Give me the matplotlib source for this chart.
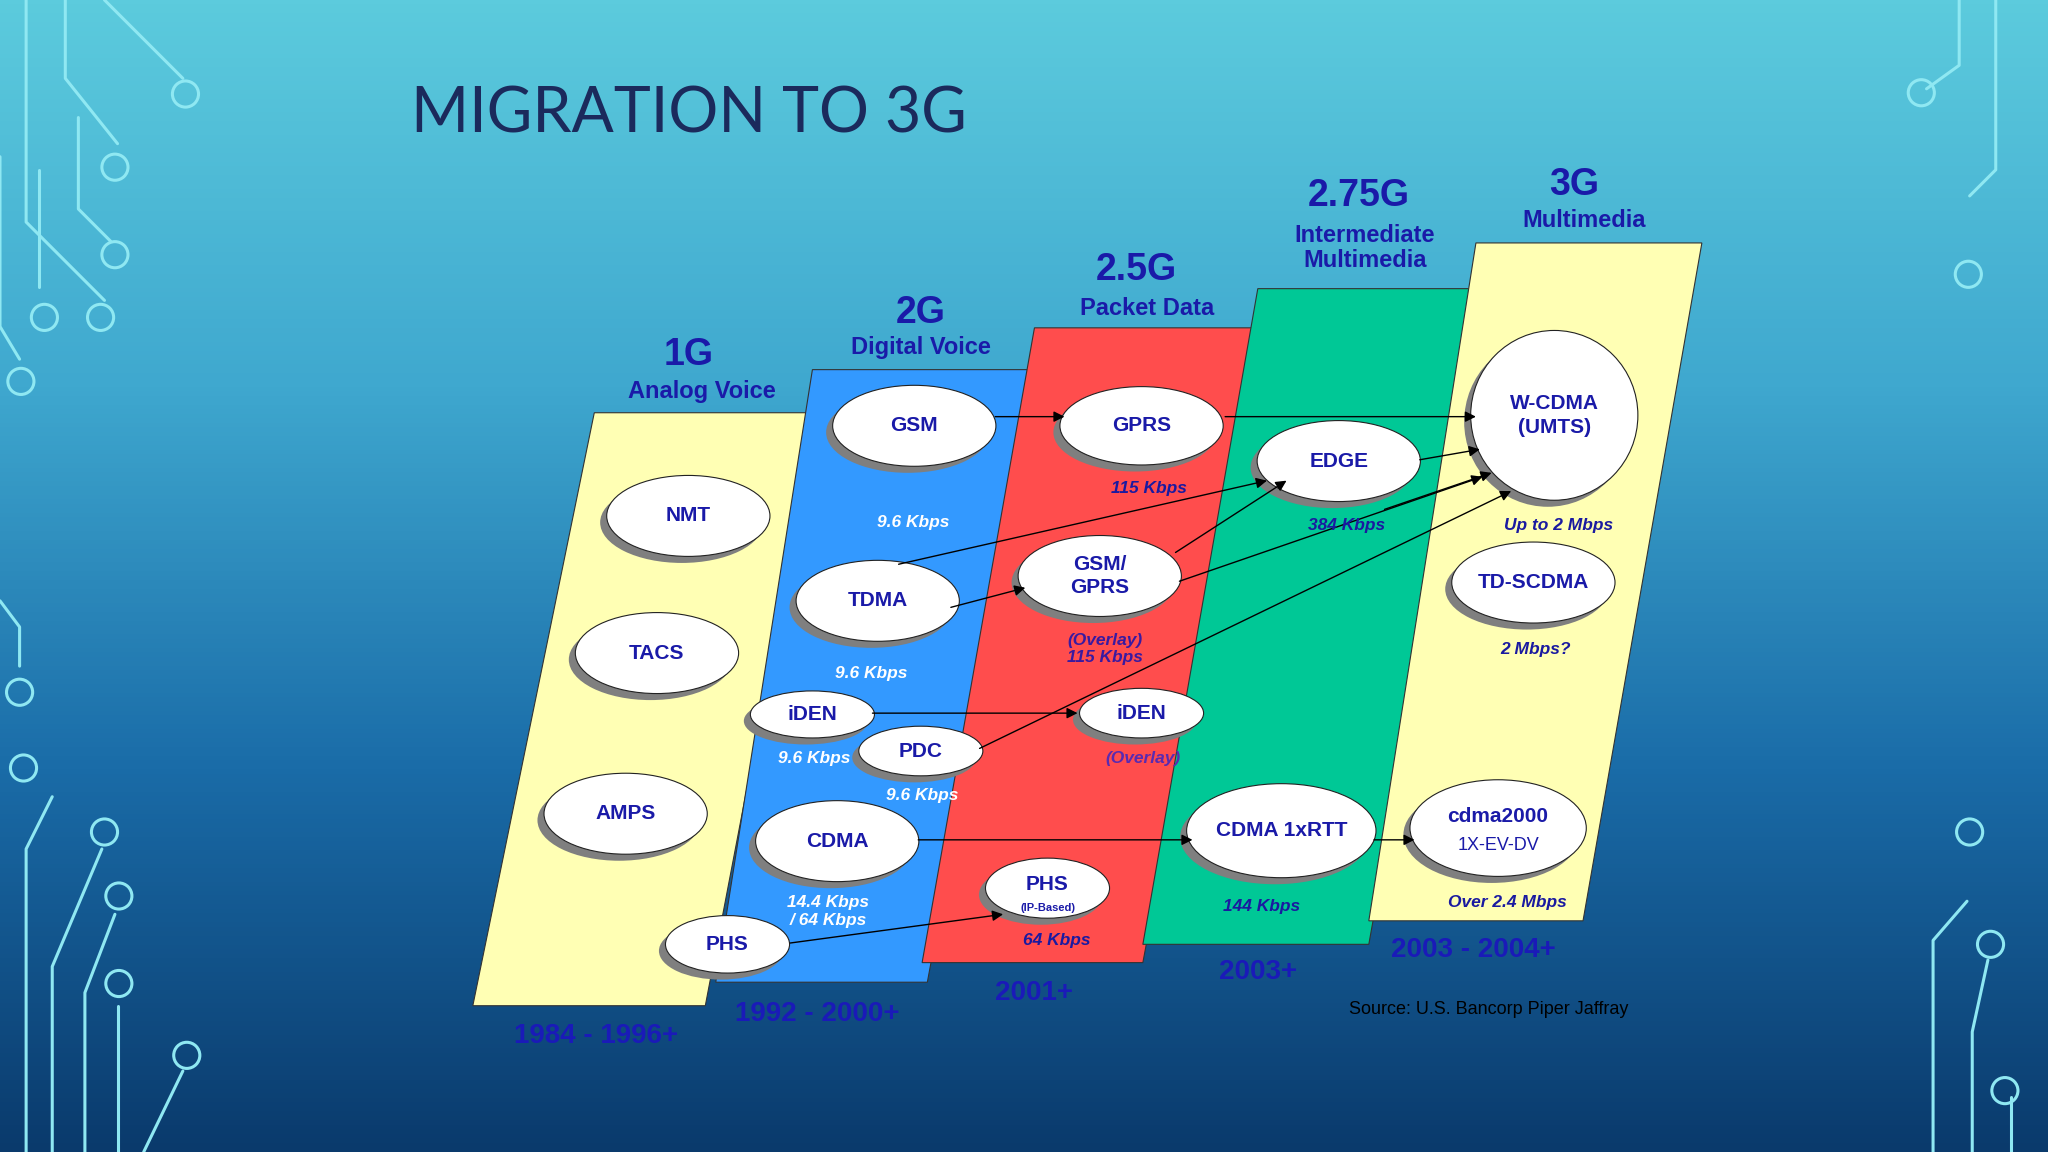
import numpy as np
import matplotlib.pyplot as plt
from matplotlib.patches import Polygon, Ellipse
from matplotlib.colors import LinearSegmentedColormap

# generations: name, subtitle, years, colour, panel (top y, top left x, top right x, bottom y, bottom left x, bottom right x)
gen_names = ["1G", "2G", "2.5G", "2.75G", "3G"]
gen_subtitles = ["Analog Voice", "Digital Voice", "Packet Data", "Intermediate\nMultimedia", "Multimedia"]
gen_years = ["1984 - 1996+", "1992 - 2000+", "2001+", "2003+", "2003 - 2004+"]
gen_colors = ["#FFFFB4", "#3399FF", "#FF4D4D", "#00C896", "#FFFFB4"]
panels = [
    (316, 455, 627, 770, 362, 540),
    (283, 622, 797, 752, 548, 710),
    (251, 792, 966, 737, 706, 875),
    (221, 963, 1138, 723, 875, 1048),
    (186, 1130, 1303, 705, 1048, 1212),
]
gen_name_pos = [(527, 272), (705, 240), (870, 207), (1040, 150), (1205, 142)]
gen_sub_pos = [(537, 300), (705, 266), (878, 236), (1045, 190), (1213, 169)]
gen_year_pos = [(456, 793), (626, 776), (792, 760), (963, 744), (1128, 727)]

# technologies: label, centre x, centre y, width, height
node_labels = ["NMT", "TACS", "AMPS", "GSM", "TDMA", "iDEN", "PDC", "CDMA", "PHS",
               "GPRS", "GSM/\nGPRS", "iDEN", "PHS", "EDGE", "CDMA 1xRTT",
               "W-CDMA\n(UMTS)", "TD-SCDMA", "cdma2000"]
node_x = [527, 503, 479, 700, 672, 622, 705, 641, 557, 874, 842, 874, 802, 1025, 981, 1190, 1174, 1147]
node_y = [395, 500, 623, 326, 460, 547, 575, 644, 723, 326, 441, 546, 680, 353, 636, 318, 446, 634]
node_w = [125, 125, 125, 125, 125, 95, 95, 125, 95, 125, 125, 95, 95, 125, 145, 128, 125, 135]
node_h = [62, 62, 62, 62, 62, 36, 38, 62, 44, 60, 62, 38, 46, 62, 72, 130, 62, 74]

# speed labels: text, x, y, colour
speed_text = ["9.6 Kbps", "9.6 Kbps", "9.6 Kbps", "9.6 Kbps", "14.4 Kbps\n/ 64 Kbps",
              "115 Kbps", "(Overlay)\n115 Kbps", "(Overlay)", "64 Kbps",
              "384 Kbps", "144 Kbps", "Up to 2 Mbps", "2 Mbps?", "Over 2.4 Mbps"]
speed_x = [699, 667, 623, 706, 634, 880, 846, 875, 809, 1031, 966, 1193, 1176, 1154]
speed_y = [400, 516, 581, 609, 698, 374, 497, 581, 720, 402, 694, 402, 497, 691]
speed_col = ["white", "white", "white", "white", "white", "#1A1AA0", "#3A1AA0", "#5A2AB0",
             "#1A1AA0", "#1A1AA0", "#1A1AA0", "#1A1AA0", "#1A1AA0", "#1A1AA0"]

# migration arrows: start, end
arrow_start = [(762, 319), (938, 319), (728, 465), (688, 432), (900, 423), (903, 445),
               (1087, 352), (1060, 390), (668, 546), (750, 573), (703, 643), (605, 722), (1052, 643)]
arrow_end = [(815, 319), (1130, 319), (785, 450), (970, 368), (985, 368), (1135, 365),
             (1133, 344), (1142, 362), (825, 546), (1157, 376), (913, 643), (768, 700), (1083, 643)]

# decorative circuit traces: polyline points, end circle
traces = [
    ([(20, 0), (20, 170), (80, 230)], (77, 243)),
    ([(50, 0), (50, 60), (90, 110)], (88, 128)),
    ([(80, 0), (140, 60)], (142, 72)),
    ([(0, 120), (0, 250), (15, 275)], (16, 292)),
    ([(30, 130), (30, 220)], (34, 243)),
    ([(60, 90), (60, 160), (85, 185)], (88, 195)),
    ([(1528, 0), (1528, 130), (1508, 150)], (1507, 210)),
    ([(1500, 0), (1500, 50), (1475, 68)], (1471, 71)),
    ([(0, 460), (15, 480), (15, 510)], (15, 530)),
    ([(20, 882), (20, 650), (40, 610)], (18, 588)),
    ([(40, 882), (40, 740), (78, 650)], (80, 637)),
    ([(65, 882), (65, 760), (88, 700)], (91, 686)),
    ([(90, 882), (90, 770)], (91, 753)),
    ([(110, 882), (140, 820)], (143, 808)),
    ([(1480, 882), (1480, 720), (1506, 690)], (1508, 637)),
    ([(1510, 882), (1510, 790), (1522, 735)], (1524, 723)),
    ([(1540, 882), (1540, 840)], (1535, 835)),
]

fig = plt.figure(figsize=(20.48, 11.52), dpi=100)
ax = fig.add_axes([0, 0, 1, 1])
ax.set_xlim(0, 1568)
ax.set_ylim(882, 0)
ax.axis("off")

bg = LinearSegmentedColormap.from_list("bg", ["#5CCBDD", "#3FA8CF", "#1A6CA8", "#0A3A6C"])
grad = np.linspace(0, 1, 256).reshape(-1, 1)
ax.imshow(grad, cmap=bg, extent=(0, 1568, 882, 0), aspect="auto", zorder=0)

for pts, circ in traces:
    xs, ys = zip(*pts)
    ax.plot(xs, ys, color="#8FE8F2", lw=2.2, zorder=1, solid_capstyle="round")
    ax.add_patch(Ellipse(circ, 20, 20, fill=False, ec="#8FE8F2", lw=2.2, zorder=1))

ax.text(315, 88, "MIGRATION TO 3G", fontsize=45, family="Lato", color="#1B2A5C",
        va="center", ha="left", zorder=5)

for i, (ty, tl, tr, by, bl, br) in enumerate(panels):
    ax.add_patch(Polygon([(tl, ty), (tr, ty), (br, by), (bl, by)], closed=True,
                         fc=gen_colors[i], ec="#333333", lw=0.8, zorder=2))
    ax.text(*gen_name_pos[i], gen_names[i], fontsize=27, fontweight="bold",
            family="Liberation Sans", color="#1A1AA8", ha="center", va="center", zorder=5)
    ax.text(*gen_sub_pos[i], gen_subtitles[i], fontsize=17, fontweight="bold",
            family="Liberation Sans", color="#1A1AA8", ha="center", va="center",
            linespacing=1.1, zorder=5)
    ax.text(*gen_year_pos[i], gen_years[i], fontsize=20, fontweight="bold",
            family="Liberation Sans", color="#1A1AB8", ha="center", va="center", zorder=5)

for (x0, y0), (x1, y1) in zip(arrow_start, arrow_end):
    ax.annotate("", xy=(x1, y1), xytext=(x0, y0), zorder=4.6,
                arrowprops=dict(arrowstyle="-|>", color="black", lw=1.0, mutation_scale=16,
                                shrinkA=0, shrinkB=0))

for lab, x, y, w, h in zip(node_labels, node_x, node_y, node_w, node_h):
    ax.add_patch(Ellipse((x - 5, y + 5), w, h, fc="#7F7F7F", ec="none", zorder=4))
    ax.add_patch(Ellipse((x, y), w, h, fc="white", ec="#222222", lw=0.8, zorder=4))
    if lab == "cdma2000":
        ax.text(x, y - 9, lab, fontsize=15, fontweight="bold", family="Liberation Sans",
                color="#1A1AA8", ha="center", va="center", zorder=5)
        ax.text(x, y + 13, "1X-EV-DV", fontsize=13, family="Liberation Sans",
                color="#1A1AA8", ha="center", va="center", zorder=5)
        continue
    if lab == "PHS" and x > 700:
        ax.text(x, y - 3, lab, fontsize=15, fontweight="bold", family="Liberation Sans",
                color="#1A1AA8", ha="center", va="center", zorder=5)
        ax.text(x, y + 15, "(IP-Based)", fontsize=8, fontweight="bold", family="Liberation Sans",
                color="#1A1AA8", ha="center", va="center", zorder=5)
        continue
    ax.text(x, y, lab, fontsize=15, fontweight="bold", family="Liberation Sans",
            color="#1A1AA8", ha="center", va="center", linespacing=1.3, zorder=5)

for t, x, y, c in zip(speed_text, speed_x, speed_y, speed_col):
    ax.text(x, y, t, fontsize=12.5, fontweight="bold", style="italic",
            family="Liberation Sans", color=c, ha="center", va="center",
            linespacing=1.2, zorder=5)

ax.text(1140, 773, "Source: U.S. Bancorp Piper Jaffray", fontsize=13, family="Liberation Sans",
        color="black", ha="center", va="center", zorder=5)

fig.savefig("out.png", dpi=100)
